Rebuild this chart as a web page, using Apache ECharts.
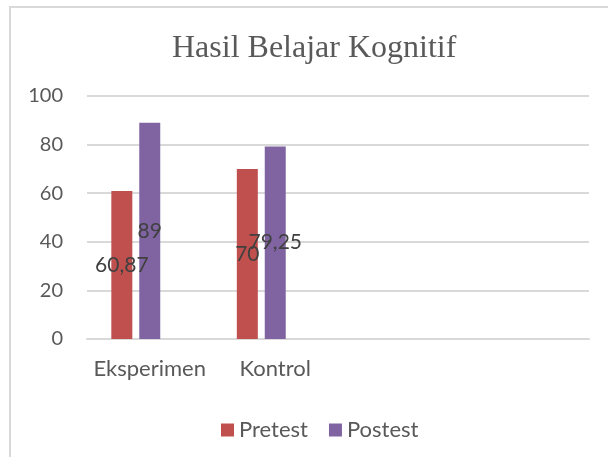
<!DOCTYPE html>
<html>
<head>
<meta charset="utf-8">
<script src="https://cdn.jsdelivr.net/npm/echarts@6/dist/echarts.min.js"></script>
<style>
html,body{margin:0;padding:0;background:#fff;}
#chart{width:608px;height:457px;}
</style>
</head>
<body>
<div id="chart"></div>
<script>
const titleText = 'Hasil Belajar Kognitif';
const categories = ['Eksperimen', 'Kontrol', '', ''];
const seriesNames = ['Pretest', 'Postest'];
const pretest = [60.87, 70];
const postest = [89, 79.25];
const emptySeries = [];
const yTicks = { min: 0, max: 100, interval: 20 };
const colors = ['#c0504d', '#8064a2', '#9bbb59'];

const fontSans = 'Lato, "Open Sans", sans-serif';
const chart = echarts.init(document.getElementById('chart'));
const labelCfg = {
  show: true,
  position: 'inside',
  color: '#404040',
  fontFamily: fontSans,
  fontSize: 21,
  formatter: p => String(p.value).replace('.', ',')
};
chart.setOption({
  animation: false,
  backgroundColor: '#ffffff',
  title: {
    text: titleText,
    left: 167,
    top: 28,
    textStyle: { fontFamily: '"Liberation Serif", "Times New Roman", serif', fontSize: 32, fontWeight: 'normal', color: '#595959' }
  },
  graphic: [{
    type: 'rect',
    shape: { x: 10, y: 7, width: 800, height: 600 },
    style: { fill: 'none', stroke: '#d9d9d9', lineWidth: 2 },
    silent: true
  }],
  legend: {
    data: seriesNames,
    top: 414,
    left: 216,
    itemWidth: 13,
    itemHeight: 13,
    itemGap: 21,
    icon: 'rect',
    textStyle: { fontFamily: fontSans, fontSize: 22, color: '#595959' }
  },
  grid: { left: 87, right: 19, top: 96, bottom: 118, containLabel: false },
  xAxis: {
    type: 'category',
    data: categories,
    axisLine: { show: true, lineStyle: { color: '#d9d9d9', width: 2 } },
    axisTick: { show: false },
    axisLabel: { interval: 0, color: '#595959', fontFamily: fontSans, fontSize: 22, margin: 19 }
  },
  yAxis: {
    type: 'value',
    min: yTicks.min, max: yTicks.max, interval: yTicks.interval,
    axisLine: { show: false },
    axisTick: { show: false },
    splitLine: { lineStyle: { color: '#d9d9d9', width: 2 } },
    axisLabel: { color: '#595959', fontFamily: fontSans, fontSize: 20, margin: 24 }
  },
  series: [
    { name: seriesNames[0], type: 'bar', data: pretest, barWidth: 21, barGap: '33%', itemStyle: { color: colors[0] }, label: labelCfg },
    { name: seriesNames[1], type: 'bar', data: postest, barWidth: 21, barGap: '33%', itemStyle: { color: colors[1] }, label: labelCfg },
    { name: 'Series3', type: 'bar', data: emptySeries, barWidth: 21, barGap: '33%', itemStyle: { color: colors[2] } }
  ]
});
</script>
</body>
</html>
